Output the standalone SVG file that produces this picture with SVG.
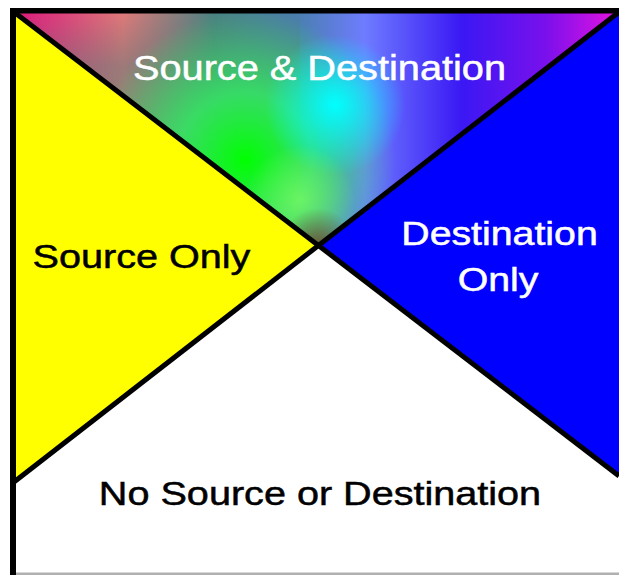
<svg xmlns="http://www.w3.org/2000/svg" width="619" height="575" viewBox="0 0 619 575">
<style>
.lbl{font-family:"Liberation Sans",Arial,sans-serif;font-size:33px;stroke-width:0.5}
.w{fill:#ffffff;stroke:#ffffff}
.b{fill:#000000;stroke:#000000}
.edge{stroke:#000;stroke-width:5;fill:none;stroke-linecap:butt}
</style>
<defs>
<linearGradient id="topBase" gradientUnits="userSpaceOnUse" x1="14" y1="0" x2="619" y2="0">
<stop offset="0" stop-color="#e0167e"/>
<stop offset="0.18" stop-color="#e07a7a"/>
<stop offset="0.33" stop-color="#4a8282"/>
<stop offset="0.47" stop-color="#4a7fb0"/>
<stop offset="0.58" stop-color="#6e7cff"/>
<stop offset="0.74" stop-color="#3a18f4"/>
<stop offset="0.88" stop-color="#7a10ec"/>
<stop offset="1" stop-color="#e812e0"/>
</linearGradient>
<linearGradient id="topDark" gradientUnits="userSpaceOnUse" x1="0" y1="12" x2="0" y2="120">
<stop offset="0" stop-color="#5a6a70" stop-opacity="0"/>
<stop offset="0.5" stop-color="#5a7a78" stop-opacity="0.5"/>
<stop offset="1" stop-color="#5a8a70" stop-opacity="0.6"/>
</linearGradient>
<radialGradient id="gGreen" gradientUnits="userSpaceOnUse" cx="245" cy="160" r="150">
<stop offset="0" stop-color="#00ff00" stop-opacity="1"/>
<stop offset="0.45" stop-color="#30f060" stop-opacity="0.8"/>
<stop offset="1" stop-color="#30f060" stop-opacity="0"/>
</radialGradient>
<radialGradient id="gCyan" gradientUnits="userSpaceOnUse" cx="335" cy="105" r="70">
<stop offset="0" stop-color="#00ffff" stop-opacity="1"/>
<stop offset="1" stop-color="#00ffff" stop-opacity="0"/>
</radialGradient>
<radialGradient id="gLight" gradientUnits="userSpaceOnUse" cx="300" cy="200" r="55">
<stop offset="0" stop-color="#80ff60" stop-opacity="0.7"/>
<stop offset="1" stop-color="#80ff60" stop-opacity="0"/>
</radialGradient>
<radialGradient id="gTip" gradientUnits="userSpaceOnUse" cx="318" cy="246" r="38">
<stop offset="0" stop-color="#6a5a30" stop-opacity="1"/>
<stop offset="1" stop-color="#6a5a30" stop-opacity="0"/>
</radialGradient>
<clipPath id="topClip"><polygon points="14,12 619,12 318,246"/></clipPath>
</defs>
<rect x="0" y="0" width="619" height="575" fill="#ffffff"/>
<g id="no-source-or-destination">
<polygon points="14,482 318,246 619,476 619,573 14,573" fill="#ffffff"/>
<text class="lbl b" transform="translate(320,505) scale(1.2,1)" text-anchor="middle">No Source or Destination</text>
</g>
<g id="source-only">
<polygon points="14,12 318,246 14,482" fill="#ffff00"/>
<text class="lbl b" transform="translate(141.5,268) scale(1.2,1)" text-anchor="middle">Source Only</text>
</g>
<g id="destination-only">
<polygon points="619,12 318,246 619,476" fill="#0000ff"/>
<text class="lbl w" transform="translate(499.5,245) scale(1.19,1)" text-anchor="middle">Destination</text>
<text class="lbl w" transform="translate(498,291) scale(1.19,1)" text-anchor="middle">Only</text>
</g>
<g id="source-and-destination">
<g clip-path="url(#topClip)">
<rect x="0" y="0" width="619" height="260" fill="url(#topBase)"/>
<rect x="0" y="0" width="300" height="260" fill="url(#topDark)"/>
<rect x="0" y="0" width="619" height="260" fill="url(#gGreen)"/>
<rect x="0" y="0" width="619" height="260" fill="url(#gCyan)"/>
<rect x="0" y="0" width="619" height="260" fill="url(#gLight)"/>
<rect x="0" y="0" width="619" height="260" fill="url(#gTip)"/>
</g>
<text class="lbl w" transform="translate(319.5,80) scale(1.135,1)" text-anchor="middle" style="font-size:35px">Source &amp; Destination</text>
</g>
<g id="connectors">
<line class="edge" x1="14" y1="12" x2="619" y2="476"/>
<line class="edge" x1="619" y1="12" x2="14" y2="482"/>
<rect x="10" y="8" width="609" height="5.5" fill="#000"/>
<rect x="10" y="8" width="6" height="567" fill="#000"/>
<rect x="16" y="572.5" width="603" height="2.5" fill="#b0b0b0"/>
</g>
</svg>
